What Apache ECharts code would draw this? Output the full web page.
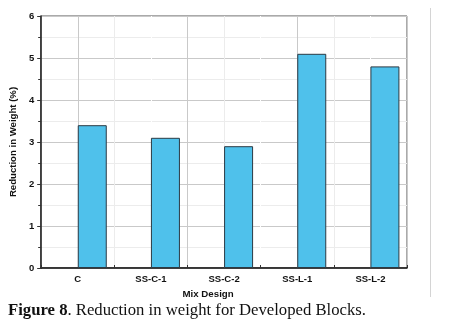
<!DOCTYPE html>
<html>
<head>
<meta charset="utf-8">
<script src="https://cdn.jsdelivr.net/npm/echarts@6/dist/echarts.min.js"></script>
<style>
  html, body { margin: 0; padding: 0; background: #fff; }
  #chart { width: 452px; height: 333px; }
</style>
</head>
<body>
<div id="chart"></div>
<script>
var categories = ['C', 'SS-C-1', 'SS-C-2', 'SS-L-1', 'SS-L-2'];
var reduction = [3.4, 3.1, 2.9, 5.1, 4.8];
var yTicks = [0, 1, 2, 3, 4, 5, 6];

var myChart = echarts.init(document.getElementById('chart'));
var labelFont = 'Liberation Sans, Arial, sans-serif';

var option = {
    backgroundColor: '#fff',
    animation: false,
    grid: {
        left: 40, right: 45, top: 16, bottom: 65,
        show: true, borderColor: '#555', borderWidth: 1
    },
    xAxis: [{
        type: 'category',
        data: categories,
        name: 'Mix Design',
        nameLocation: 'middle',
        nameGap: 15,
        nameTextStyle: { fontFamily: labelFont, fontWeight: 'bold', fontSize: 9.7, color: '#111', padding: [0, 32, 0, 0] },
        axisLine: { lineStyle: { color: '#111', width: 1.5 } },
        axisTick: { show: true, inside: true, length: 3, lineStyle: { color: '#333' } },
        axisLabel: { fontFamily: labelFont, fontWeight: 'bold', fontSize: 9.5, color: '#111', margin: 6 },
        splitLine: { show: false }
    }, {
        // helper axis for the alternating vertical grid lines
        type: 'value',
        min: 0, max: 10, interval: 1,
        position: 'bottom',
        axisLine: { show: false },
        axisTick: { show: false },
        axisLabel: { show: false },
        splitLine: { show: true, lineStyle: { color: ['#ffffff', '#c9c9c9', '#ececec'], width: 1 } }
    }],
    yAxis: {
        type: 'value',
        min: yTicks[0], max: yTicks[yTicks.length - 1], interval: 1,
        name: 'Reduction in Weight (%)',
        nameLocation: 'middle',
        nameGap: 21,
        nameTextStyle: { fontFamily: labelFont, fontWeight: 'bold', fontSize: 9.6, color: '#111' },
        axisLine: { show: true, lineStyle: { color: '#111', width: 1.5 } },
        axisTick: { show: true, length: 4, lineStyle: { color: '#333' } },
        minorTick: { show: true, splitNumber: 2, length: 3, lineStyle: { color: '#333' } },
        axisLabel: { fontFamily: labelFont, fontWeight: 'bold', fontSize: 9.5, color: '#111', margin: 7 },
        splitLine: { show: true, lineStyle: { color: '#c9c9c9' } },
        minorSplitLine: { show: true, lineStyle: { color: '#ececec' } }
    },
    series: [{
        // empty slot so the real bar sits to the right of the category centre
        type: 'bar',
        data: categories.map(function () { return '-'; }),
        barWidth: 29,
        barGap: '0%'
    }, {
        type: 'bar',
        data: reduction,
        barWidth: 29,
        barGap: '0%',
        itemStyle: { color: '#4fc1eb', borderColor: '#2b3a44', borderWidth: 1 }
    }],
    graphic: [{
        type: 'line',
        shape: { x1: 430.5, y1: 8, x2: 430.5, y2: 297 },
        style: { stroke: '#d4d4d4', lineWidth: 1 }
    }, {
        type: 'text',
        left: 8,
        top: 302,
        style: {
            text: '{b|Figure 8}{n|. Reduction in weight for Developed Blocks.}',
            rich: {
                b: { fontFamily: 'Liberation Serif, Times New Roman, serif', fontWeight: 'bold', fontSize: 16.7, fill: '#111' },
                n: { fontFamily: 'Liberation Serif, Times New Roman, serif', fontSize: 16.7, fill: '#111' }
            }
        }
    }]
};
myChart.setOption(option);
window.addEventListener('resize', function () {
    myChart.resize();
});
</script>
</body>
</html>
